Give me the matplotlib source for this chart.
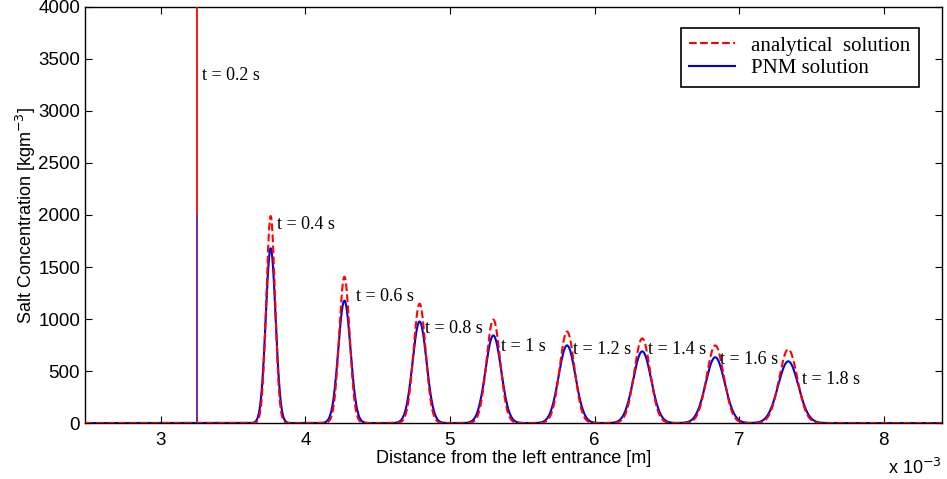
import numpy as np
import matplotlib
matplotlib.use("Agg")
import matplotlib.pyplot as plt

# ---- data (x in units of 1e-3 m, concentration in kg/m^3) ----
times = ["0.2", "0.4", "0.6", "0.8", "1", "1.2", "1.4", "1.6", "1.8"]
# pulse at t = 0.2 s (spike)
spike_x = 3.25
spike_red = 4400
spike_blue = 2000
# later pulses (t = 0.4 ... 1.8 s)
peak_x = [3.76, 4.27, 4.79, 5.30, 5.81, 6.33, 6.835, 7.34]
red_peak = [1990, 1407, 1148, 995, 880, 813, 746, 708]
blue_peak = [1680, 1177, 976, 842, 746, 689, 632, 593]
red_sigma = [0.030, 0.036, 0.042, 0.047, 0.051, 0.055, 0.059, 0.063]
blue_sigma = [0.034, 0.042, 0.048, 0.054, 0.058, 0.062, 0.066, 0.070]
# label anchor positions
label_x = [3.284, 3.803, 4.349, 4.827, 5.353, 5.851, 6.370, 6.869, 7.436]
label_y = [3346, 1904, 1212, 904, 731, 702, 702, 615, 423]

xmin, xmax = 2.476, 8.404

x = np.linspace(xmin, xmax, 6000)
red = np.zeros_like(x)
blue = np.zeros_like(x)
for c, hr, hb, sr, sb in zip(peak_x, red_peak, blue_peak, red_sigma, blue_sigma):
    red += hr * np.exp(-0.5 * ((x - c) / sr) ** 2)
    blue += hb * np.exp(-0.5 * ((x - c) / sb) ** 2)

fig = plt.figure(figsize=(9.47, 4.79), dpi=100)
ax = fig.add_axes([0.0898, 0.1169, 0.905, 0.8685])

serif = ["Liberation Serif", "DejaVu Serif"]
sans = ["Liberation Sans", "DejaVu Sans"]

ax.plot(x, red, color="red", ls="--", lw=1.5, label="analytical  solution", zorder=3)
ax.plot(x, blue, color="#0000e0", ls="-", lw=1.5, label="PNM solution", zorder=2)
ax.plot([spike_x, spike_x], [0, spike_red], color="red", lw=1.3, zorder=3)
ax.plot([spike_x + 0.003, spike_x + 0.003], [0, spike_blue], color="#6a2fb0", lw=1.3, zorder=4)

for t, lx, ly in zip(times, label_x, label_y):
    ax.text(lx, ly, f"t = {t} s", family=serif, fontsize=13, ha="left", va="center")

ax.set_xlim(xmin, xmax)
ax.set_ylim(0, 4000)
ax.set_xticks([3, 4, 5, 6, 7, 8])
ax.set_yticks(np.arange(0, 4001, 500))
ax.tick_params(direction="in", top=True, right=True, length=5, labelsize=13.5)
ax.tick_params(axis="x", pad=6.5)
for lab in ax.get_xticklabels() + ax.get_yticklabels():
    lab.set_family(sans)
ax.set_xlabel("Distance from the left entrance [m]", family=sans, fontsize=13, labelpad=1)
ax.set_ylabel("Salt Concentration [kgm$^{-3}$]", family=sans, fontsize=13, labelpad=0)
ax.text(1.0, -0.085, "x 10$^{-3}$", transform=ax.transAxes, family=sans, fontsize=13,
        ha="right", va="top")
for s in ax.spines.values():
    s.set_linewidth(1.0)

leg = ax.legend(loc="upper right", bbox_to_anchor=(0.973, 0.95), borderaxespad=0,
                prop={"family": serif, "size": 15},
                frameon=True, fancybox=False, edgecolor="black", framealpha=1,
                handlelength=2.2, borderpad=0.4, labelspacing=0.15)
leg.get_frame().set_linewidth(1.2)

fig.savefig("out.png", dpi=100)
